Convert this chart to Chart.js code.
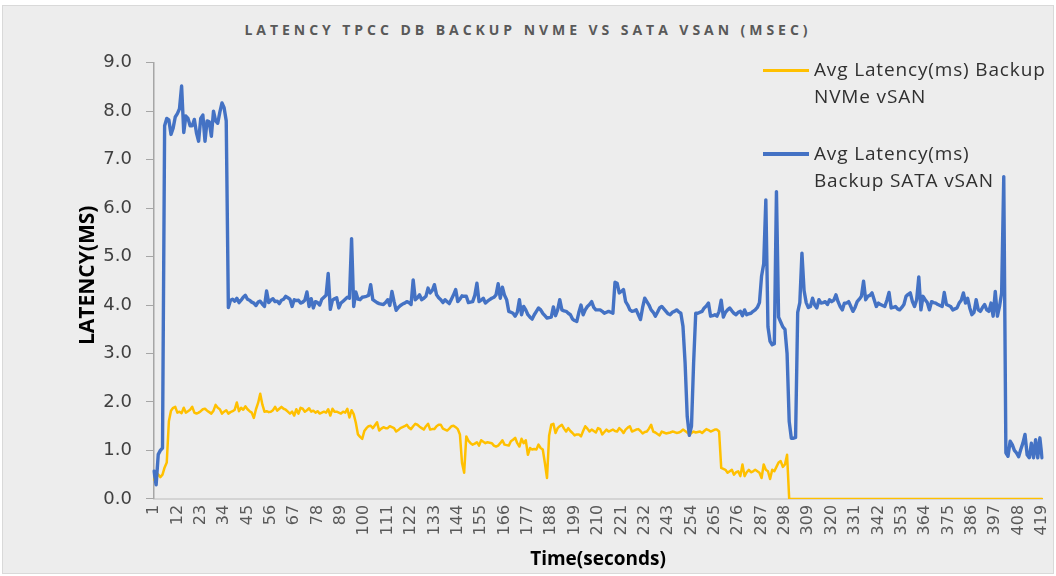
<!DOCTYPE html>
<html>
<head>
<meta charset="utf-8">
<script src="https://cdn.jsdelivr.net/npm/chart.js@4.4.1/dist/chart.umd.min.js"></script>
<style>
  body { margin: 0; background: #fff; }
  #wrap { position: relative; width: 1056px; height: 576px; overflow: hidden; }
  #frame { position: absolute; left: 2px; top: 5px; width: 1050px; height: 567px; border: 1px solid #d9d9d9; background: #ededed; }
  #box { position: absolute; left: 0; top: 0; width: 1056px; height: 576px; }
  #title { position: absolute; left: 0; width: 1056px; top: 20px; text-align: center; font: bold 14px "Open Sans", sans-serif; letter-spacing: 3.95px; color: #595959; }
  .leg-line { position: absolute; left: 763px; width: 46px; }
  .leg-text { position: absolute; left: 814px; font: 19px "Open Sans", sans-serif; letter-spacing: 0.85px; line-height: 26.5px; color: #303030; white-space: nowrap; }
</style>
</head>
<body>
<div id="wrap">
  <div id="frame"></div>
  <div id="title">LATENCY TPCC DB BACKUP NVME VS SATA VSAN (MSEC)</div>
  <div id="box"><canvas id="latencyChart"></canvas></div>
  <div class="leg-line" style="top:68.5px;height:3px;background:#FFC000"></div>
  <div class="leg-text" style="top:56px">Avg Latency(ms) Backup<br>NVMe vSAN</div>
  <div class="leg-line" style="top:152px;height:4px;background:#4472C4"></div>
  <div class="leg-text" style="top:140px">Avg Latency(ms)<br>Backup SATA vSAN</div>
</div>
<script>
// seconds 1..419
const seconds = Array.from({ length: 419 }, (_, i) => String(i + 1));

// labels Excel shows on the category axis
const tickLabels = [1, 12, 23, 34, 45, 56, 67, 78, 89, 100, 111, 122, 133, 144, 155, 166, 177, 188, 199, 210,
  221, 232, 243, 254, 265, 276, 287, 298, 309, 320, 331, 342, 353, 364, 375, 386, 397, 408, 419];

const yTicks = [0, 1, 2, 3, 4, 5, 6, 7, 8, 9];

// Avg Latency(ms) Backup NVMe vSAN
const nvmeLatency = [
  0.4, 0.55, 0.5, 0.45, 0.5, 0.65, 0.75, 1.6, 1.82, 1.88,
  1.9, 1.78, 1.8, 1.77, 1.88, 1.78, 1.81, 1.84, 1.9, 1.78,
  1.76, 1.78, 1.81, 1.85, 1.86, 1.82, 1.79, 1.76, 1.82, 1.94,
  1.88, 1.85, 1.76, 1.8, 1.83, 1.76, 1.79, 1.81, 1.84, 1.99,
  1.81, 1.88, 1.84, 1.91, 1.85, 1.81, 1.78, 1.67, 1.85, 1.98,
  2.17, 1.95, 1.8, 1.81, 1.79, 1.8, 1.83, 1.9, 1.82, 1.86,
  1.9, 1.86, 1.84, 1.8, 1.76, 1.8, 1.72, 1.85, 1.76, 1.88,
  1.86, 1.8, 1.83, 1.87, 1.8, 1.82, 1.78, 1.81, 1.76, 1.78,
  1.8, 1.78, 1.85, 1.72, 1.86, 1.8, 1.8, 1.78, 1.76, 1.8,
  1.78, 1.86, 1.68, 1.83, 1.75, 1.57, 1.33, 1.28, 1.24, 1.4,
  1.46, 1.5, 1.51, 1.46, 1.52, 1.58, 1.41, 1.45, 1.48, 1.46,
  1.46, 1.5, 1.48, 1.46, 1.39, 1.42, 1.46, 1.48, 1.5, 1.53,
  1.47, 1.44, 1.5, 1.55, 1.53, 1.49, 1.46, 1.43, 1.5, 1.55,
  1.43, 1.44, 1.44, 1.5, 1.53, 1.53, 1.45, 1.43, 1.41, 1.45,
  1.5, 1.51, 1.48, 1.44, 1.33, 0.74, 0.54, 1.29, 1.2, 1.15,
  1.12, 1.14, 1.17, 1.1, 1.21, 1.18, 1.15, 1.17, 1.16, 1.15,
  1.1, 1.08, 1.1, 1.15, 1.21, 1.12, 1.11, 1.1, 1.19, 1.22,
  1.26, 1.15, 1.08, 1.24, 1.15, 1.21, 0.91, 1.05, 1.02, 1.03,
  1.02, 1.12, 1.05, 1.02, 0.74, 0.43, 1.31, 1.53, 1.55, 1.36,
  1.46, 1.5, 1.53, 1.45, 1.39, 1.46, 1.4, 1.36, 1.31, 1.33,
  1.33, 1.29, 1.4, 1.5, 1.45, 1.39, 1.43, 1.4, 1.37, 1.46,
  1.44, 1.33, 1.38, 1.43, 1.39, 1.41, 1.43, 1.4, 1.39, 1.46,
  1.42, 1.36, 1.43, 1.47, 1.5, 1.39, 1.41, 1.43, 1.44, 1.4,
  1.35, 1.38, 1.39, 1.45, 1.53, 1.39, 1.37, 1.34, 1.31, 1.39,
  1.37, 1.35, 1.36, 1.37, 1.39, 1.38, 1.36, 1.37, 1.39, 1.43,
  1.4, 1.37, 1.33, 1.36, 1.39, 1.37, 1.38, 1.39, 1.36, 1.4,
  1.44, 1.42, 1.39, 1.41, 1.43, 1.43, 1.39, 0.64, 0.62, 0.6,
  0.54, 0.57, 0.6, 0.5, 0.55, 0.57, 0.47, 0.71, 0.47, 0.55,
  0.6, 0.55, 0.57, 0.6, 0.57, 0.54, 0.43, 0.71, 0.6, 0.57,
  0.41, 0.6, 0.57, 0.66, 0.75, 0.78, 0.66, 0.71, 0.91, 0,
  0, 0, 0, 0, 0, 0, 0, 0, 0, 0,
  0, 0, 0, 0, 0, 0, 0, 0, 0, 0,
  0, 0, 0, 0, 0, 0, 0, 0, 0, 0,
  0, 0, 0, 0, 0, 0, 0, 0, 0, 0,
  0, 0, 0, 0, 0, 0, 0, 0, 0, 0,
  0, 0, 0, 0, 0, 0, 0, 0, 0, 0,
  0, 0, 0, 0, 0, 0, 0, 0, 0, 0,
  0, 0, 0, 0, 0, 0, 0, 0, 0, 0,
  0, 0, 0, 0, 0, 0, 0, 0, 0, 0,
  0, 0, 0, 0, 0, 0, 0, 0, 0, 0,
  0, 0, 0, 0, 0, 0, 0, 0, 0, 0,
  0, 0, 0, 0, 0, 0, 0, 0, 0
];

// Avg Latency(ms) Backup SATA vSAN
const sataLatency = [
  0.57, 0.29, 0.92, 1.0, 1.05, 7.7, 7.85, 7.82, 7.52, 7.65,
  7.88, 7.95, 8.05, 8.52, 7.56, 7.9, 7.85, 7.7, 7.7, 7.83,
  7.55, 7.38, 7.85, 7.92, 7.38, 7.8, 7.78, 7.48, 8.0, 7.8,
  7.75, 7.98, 8.17, 8.07, 7.8, 3.95, 4.1, 4.12, 4.08, 4.14,
  4.05, 4.1, 4.16, 4.2, 4.12, 4.1, 4.06, 4.04, 3.99, 4.06,
  4.08, 4.02, 3.97, 4.29, 4.05, 4.1, 4.13, 4.07, 4.08, 4.03,
  4.1, 4.12, 4.18, 4.15, 4.12, 3.97, 4.11, 4.09, 4.1, 4.04,
  4.06, 4.1, 4.27, 3.97, 4.13, 3.94, 4.07, 4.05, 4.0, 4.12,
  4.16, 4.2, 4.65, 3.91, 4.1, 4.13, 4.15, 3.94, 4.04, 4.08,
  4.12, 4.16, 4.14, 5.37, 3.97, 4.27, 4.12, 4.11, 4.16, 4.17,
  4.18, 4.2, 4.42, 4.11, 4.08, 4.05, 4.03, 4.02, 4.01, 4.05,
  4.11, 3.99, 4.28, 4.07, 3.89, 3.95, 3.99, 4.02, 4.04, 4.07,
  4.05, 4.01, 4.52, 4.11, 4.15, 4.21, 4.11, 4.14, 4.18, 4.35,
  4.25, 4.3, 4.42, 4.21, 4.15, 4.11, 4.05, 4.11, 4.07, 4.03,
  4.12, 4.21, 4.32, 4.07, 4.12, 4.19, 4.18, 4.18, 4.05, 4.06,
  4.07, 4.2, 4.45, 4.07, 4.1, 4.14, 4.04, 4.08, 4.11, 4.14,
  4.16, 4.21, 4.44, 4.14, 4.37, 4.2, 4.11, 3.87, 3.85, 3.83,
  3.77, 3.85, 4.11, 3.8, 3.97, 3.9, 3.8, 3.75, 3.71, 3.8,
  3.87, 3.94, 3.9, 3.83, 3.78, 3.73, 3.74, 3.75, 3.96, 3.78,
  3.9, 4.11, 3.9, 3.88, 3.87, 3.83, 3.8, 3.71, 3.68, 3.66,
  3.85, 4.0, 3.8, 3.9, 3.97, 4.01, 4.07, 3.95, 3.9, 3.9,
  3.9, 3.87, 3.83, 3.85, 3.87, 3.85, 3.83, 4.47, 4.45, 4.25,
  4.28, 4.32, 4.07, 4.0, 3.9, 3.87, 3.88, 3.9, 3.8, 3.7,
  3.95, 4.14, 4.07, 4.0, 3.9, 3.85, 3.77, 3.85, 3.94, 3.97,
  3.92, 3.87, 3.82, 3.8, 3.85, 3.87, 3.9, 3.86, 3.83, 3.56,
  2.8, 1.7, 1.31, 1.5, 2.8, 3.83, 3.83, 3.85, 3.87, 3.94,
  3.98, 4.04, 3.77, 3.78, 3.8, 3.77, 3.87, 4.1, 3.75, 3.85,
  3.9, 3.94, 3.88, 3.83, 3.8, 3.85, 3.87, 3.78, 3.9, 3.8,
  3.82, 3.83, 3.87, 3.9, 3.95, 4.05, 4.6, 4.85, 6.17, 3.55,
  3.25, 3.18, 3.2, 6.34, 3.75, 3.65, 3.55, 3.5, 3.0, 1.6,
  1.25, 1.25, 1.27, 3.85, 4.05, 5.07, 4.3, 4.05, 3.95, 3.97,
  4.14, 4.0, 3.94, 4.11, 4.04, 4.05, 4.07, 4.01, 4.11, 4.07,
  4.1, 4.21, 4.07, 3.97, 3.9, 4.04, 4.04, 4.07, 3.97, 3.87,
  3.95, 4.07, 4.12, 4.18, 4.49, 4.11, 4.18, 4.2, 4.25, 4.11,
  3.97, 4.04, 4.01, 3.99, 3.97, 4.1, 4.26, 3.94, 3.95, 3.97,
  3.92, 3.9, 3.95, 4.01, 4.18, 4.22, 4.25, 4.07, 3.97, 4.11,
  4.58, 3.9, 4.18, 4.11, 4.05, 3.9, 4.07, 4.05, 4.04, 4.01,
  3.99, 3.97, 4.26, 4.01, 3.99, 3.97, 3.9, 3.92, 3.94, 4.04,
  4.1, 4.25, 4.04, 4.14, 3.94, 3.8, 3.85, 4.11, 3.9, 3.87,
  3.95, 4.01, 3.9, 3.87, 4.04, 3.77, 4.28, 3.77, 3.97, 4.25,
  6.65, 0.95, 0.88, 1.19, 1.12, 1.0, 0.95, 0.87, 1.02, 1.15,
  1.33, 0.91, 0.85, 1.15, 0.85, 1.22, 0.85, 1.26, 0.85
];

const ctx = document.getElementById("latencyChart").getContext("2d");

new Chart(ctx, {
  type: "line",
  data: {
    labels: seconds,
    datasets: [
      {
        label: "Avg Latency(ms) Backup NVMe vSAN",
        data: nvmeLatency,
        borderColor: "#FFC000",
        borderWidth: 2.5,
        pointRadius: 0,
        tension: 0,
        borderJoinStyle: "round",
        borderCapStyle: "round",
        order: 1,
      },
      {
        label: "Avg Latency(ms) Backup SATA vSAN",
        data: sataLatency,
        borderColor: "#4472C4",
        borderWidth: 3.4,
        pointRadius: 0,
        tension: 0,
        borderJoinStyle: "round",
        borderCapStyle: "round",
        order: 0,
      },
    ],
  },
  options: {
    responsive: true,
    maintainAspectRatio: false,
    animation: false,
    events: [],
    layout: {
      padding: { left: 75, top: 62.7, right: 14, bottom: 5 },
    },
    plugins: {
      legend: { display: false },
      tooltip: { enabled: false },
    },
    scales: {
      x: {
        type: "category",
        offset: false,
        // keep the plot edge where Excel puts it, labels may overhang
        afterFit: (scale) => {
          scale.height = 72.1;
          scale.paddingLeft = 0;
          scale.paddingRight = 0;
        },
        grid: { display: false, drawTicks: false },
        border: { display: true, color: "#d4d4d4", width: 2 },
        ticks: {
          autoSkip: false,
          minRotation: 90,
          maxRotation: 90,
          padding: 6,
          color: "#595959",
          font: { family: "DejaVu Sans", size: 16 },
          callback: function (value, index) {
            const lbl = seconds[index];
            return tickLabels.includes(Number(lbl)) ? lbl : "";
          },
        },
        title: {
          display: true,
          text: "Time(seconds)",
          color: "#000",
          padding: { top: 0, bottom: 0 },
          font: { family: "Open Sans", size: 19, weight: "bold" },
        },
      },
      y: {
        min: 0,
        max: 9,
        afterFit: (scale) => { scale.width = 79; },
        afterBuildTicks: (scale) => { scale.ticks = yTicks.map((v) => ({ value: v })); },
        grid: { drawOnChartArea: false, drawTicks: true, tickLength: 8, color: "#a6a6a6" },
        border: { display: true, color: "#a6a6a6", width: 1.5 },
        ticks: {
          padding: 14,
          color: "#404040",
          font: { family: "DejaVu Sans", size: 18 },
          callback: (v) => Number(v).toFixed(1),
        },
        title: {
          display: true,
          text: "  LATENCY(MS)",
          color: "#000",
          padding: { top: 0, bottom: 0 },
          font: { family: "Open Sans", size: 21, weight: "bold" },
        },
      },
    },
  },
});
</script>
</body>
</html>
